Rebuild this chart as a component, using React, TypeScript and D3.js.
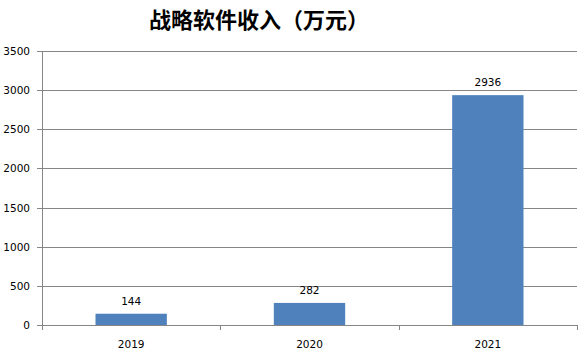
import React, {useEffect, useRef} from 'react';
import * as d3 from 'd3';

const years = ['2019', '2020', '2021'];
const revenue = [144, 282, 2936];
const yTicks = [0, 500, 1000, 1500, 2000, 2500, 3000, 3500];
const title = '战略软件收入（万元）';

export default function App() {
    const svgRef = useRef<SVGSVGElement>(null);

    useEffect(() => {
        const width = 581;
        const height = 353;
        const margin = {top: 51, right: 4, bottom: 28, left: 42};
        const grid = '#868686';

        const svg = d3.select(svgRef.current);
        svg.selectAll('*').remove();

        const x = d3.scaleBand<string>()
            .domain(years)
            .range([margin.left, width - margin.right])
            .paddingInner(0.6)
            .paddingOuter(0.3);

        const y = d3.scaleLinear()
            .domain([0, 3500])
            .range([height - margin.bottom, margin.top]);

        // horizontal gridlines
        svg.append('g')
            .selectAll('line')
            .data(yTicks)
            .enter()
            .append('line')
            .attr('x1', margin.left - 5)
            .attr('x2', width - margin.right)
            .attr('y1', d => Math.round(y(d)) + 0.5)
            .attr('y2', d => Math.round(y(d)) + 0.5)
            .attr('stroke', grid)
            .attr('stroke-width', 1);

        // y labels
        svg.append('g')
            .selectAll('text')
            .data(yTicks)
            .enter()
            .append('text')
            .attr('x', margin.left - 12)
            .attr('y', d => y(d) + 4)
            .attr('text-anchor', 'end')
            .attr('font-family', 'DejaVu Sans, sans-serif')
            .attr('font-size', '10.5px')
            .attr('fill', '#000')
            .text(d => d);

        // y axis line
        svg.append('line')
            .attr('x1', margin.left + 0.5)
            .attr('x2', margin.left + 0.5)
            .attr('y1', y(3500))
            .attr('y2', y(0))
            .attr('stroke', grid);

        // x category boundary ticks
        const step = x.step();
        const bounds = d3.range(years.length + 1).map(i => margin.left + i * step);
        svg.append('g')
            .selectAll('line')
            .data(bounds)
            .enter()
            .append('line')
            .attr('x1', d => Math.round(d) + 0.5)
            .attr('x2', d => Math.round(d) + 0.5)
            .attr('y1', y(0))
            .attr('y2', y(0) + 5)
            .attr('stroke', grid);

        // bars
        svg.append('g')
            .selectAll('rect')
            .data(revenue)
            .enter()
            .append('rect')
            .attr('x', (d, i) => x(years[i])!)
            .attr('y', d => y(d))
            .attr('width', x.bandwidth())
            .attr('height', d => y(0) - y(d))
            .attr('fill', '#4F81BD');

        // value labels
        svg.append('g')
            .selectAll('text')
            .data(revenue)
            .enter()
            .append('text')
            .attr('x', (d, i) => x(years[i])! + x.bandwidth() / 2)
            .attr('y', d => y(d) - 9)
            .attr('text-anchor', 'middle')
            .attr('font-family', 'DejaVu Sans, sans-serif')
            .attr('font-size', '10.5px')
            .attr('fill', '#000')
            .text(d => d);

        // x labels
        svg.append('g')
            .selectAll('text')
            .data(years)
            .enter()
            .append('text')
            .attr('x', d => x(d)! + x.bandwidth() / 2)
            .attr('y', y(0) + 23)
            .attr('text-anchor', 'middle')
            .attr('font-family', 'DejaVu Sans, sans-serif')
            .attr('font-size', '10.5px')
            .attr('fill', '#000')
            .text(d => d);

        svg.append('text')
            .attr('x', 259)
            .attr('y', 28)
            .attr('text-anchor', 'middle')
            .attr('font-family', 'Noto Sans CJK SC, sans-serif')
            .attr('font-weight', 'bold')
            .attr('font-size', '22px')
            .attr('fill', '#000')
            .text(title);
    }, []);

    return (
        <svg ref={svgRef} width={581} height={353}
             style={{position: 'absolute', left: 0, top: 0, background: '#fff'}}/>
    );
}
